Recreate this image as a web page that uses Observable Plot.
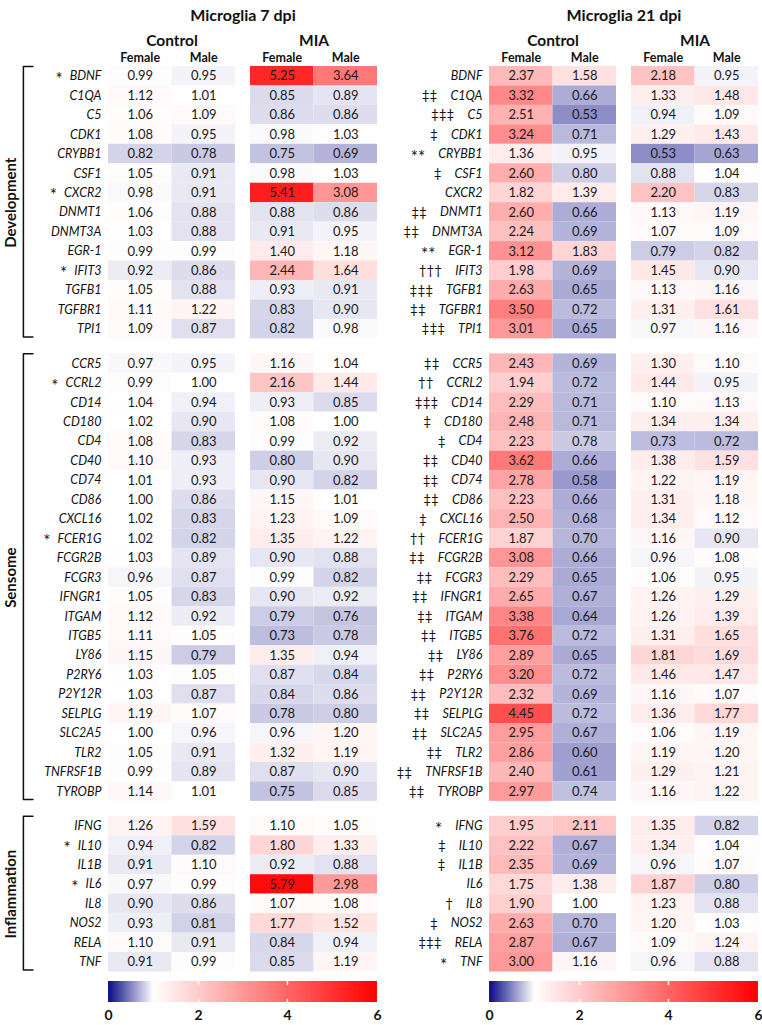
<!DOCTYPE html>
<html>
<head>
<meta charset="utf-8">
<script src="https://cdn.jsdelivr.net/npm/d3@7"></script>
<script src="https://cdn.jsdelivr.net/npm/@observablehq/plot@0.6"></script>
<style>
html, body { margin: 0; padding: 0; overflow: hidden; background: #fff; }
#wrap { position: relative; width: 762px; height: 1025px; }
#wrap > svg { position: absolute; }
.cb-ramp .tick line { stroke: #fff; stroke-width: 1.5; stroke-dasharray: 4 14 4 40; }
.cb-ramp .tick:first-of-type line, .cb-ramp .tick:last-of-type line { display: none; }
</style>
</head>
<body>
<div id="wrap"></div>
<script>
// ---------------- data ----------------
const panels = ["Microglia 7 dpi", "Microglia 21 dpi"];
const conditions = ["Control", "MIA"];
const sexes = ["Female", "Male"];
const groups = ["Development", "Sensome", "Inflammation"];

const developmentGenes = ["BDNF","C1QA","C5","CDK1","CRYBB1","CSF1","CXCR2","DNMT1","DNMT3A","EGR-1","IFIT3","TGFB1","TGFBR1","TPI1"];
const sensomeGenes = ["CCR5","CCRL2","CD14","CD180","CD4","CD40","CD74","CD86","CXCL16","FCER1G","FCGR2B","FCGR3","IFNGR1","ITGAM","ITGB5","LY86","P2RY6","P2Y12R","SELPLG","SLC2A5","TLR2","TNFRSF1B","TYROBP"];
const inflammationGenes = ["IFNG","IL10","IL1B","IL6","IL8","NOS2","RELA","TNF"];

// rows: [Control Female, Control Male, MIA Female, MIA Male]
const dpi7Development = [
  [0.99,0.95,5.25,3.64],[1.12,1.01,0.85,0.89],[1.06,1.09,0.86,0.86],[1.08,0.95,0.98,1.03],
  [0.82,0.78,0.75,0.69],[1.05,0.91,0.98,1.03],[0.98,0.91,5.41,3.08],[1.06,0.88,0.88,0.86],
  [1.03,0.88,0.91,0.95],[0.99,0.99,1.40,1.18],[0.92,0.86,2.44,1.64],[1.05,0.88,0.93,0.91],
  [1.11,1.22,0.83,0.90],[1.09,0.87,0.82,0.98]
];
const dpi7Sensome = [
  [0.97,0.95,1.16,1.04],[0.99,1.00,2.16,1.44],[1.04,0.94,0.93,0.85],[1.02,0.90,1.08,1.00],
  [1.08,0.83,0.99,0.92],[1.10,0.93,0.80,0.90],[1.01,0.93,0.90,0.82],[1.00,0.86,1.15,1.01],
  [1.02,0.83,1.23,1.09],[1.02,0.82,1.35,1.22],[1.03,0.89,0.90,0.88],[0.96,0.87,0.99,0.82],
  [1.05,0.83,0.90,0.92],[1.12,0.92,0.79,0.76],[1.11,1.05,0.73,0.78],[1.15,0.79,1.35,0.94],
  [1.03,1.05,0.87,0.84],[1.03,0.87,0.84,0.86],[1.19,1.07,0.78,0.80],[1.00,0.96,0.96,1.20],
  [1.05,0.91,1.32,1.19],[0.99,0.89,0.87,0.90],[1.14,1.01,0.75,0.85]
];
const dpi7Inflammation = [
  [1.26,1.59,1.10,1.05],[0.94,0.82,1.80,1.33],[0.91,1.10,0.92,0.88],[0.97,0.99,5.79,2.98],
  [0.90,0.86,1.07,1.08],[0.93,0.81,1.77,1.52],[1.10,0.91,0.84,0.94],[0.91,0.99,0.85,1.19]
];
const dpi21Development = [
  [2.37,1.58,2.18,0.95],[3.32,0.66,1.33,1.48],[2.51,0.53,0.94,1.09],[3.24,0.71,1.29,1.43],
  [1.36,0.95,0.53,0.63],[2.60,0.80,0.88,1.04],[1.82,1.39,2.20,0.83],[2.60,0.66,1.13,1.19],
  [2.24,0.69,1.07,1.09],[3.12,1.83,0.79,0.82],[1.98,0.69,1.45,0.90],[2.63,0.65,1.13,1.16],
  [3.50,0.72,1.31,1.61],[3.01,0.65,0.97,1.16]
];
const dpi21Sensome = [
  [2.43,0.69,1.30,1.10],[1.94,0.72,1.44,0.95],[2.29,0.71,1.10,1.13],[2.48,0.71,1.34,1.34],
  [2.23,0.78,0.73,0.72],[3.62,0.66,1.38,1.59],[2.78,0.58,1.22,1.19],[2.23,0.66,1.31,1.18],
  [2.50,0.68,1.34,1.12],[1.87,0.70,1.16,0.90],[3.08,0.66,0.96,1.08],[2.29,0.65,1.06,0.95],
  [2.65,0.67,1.26,1.29],[3.38,0.64,1.26,1.39],[3.76,0.72,1.31,1.65],[2.89,0.65,1.81,1.69],
  [3.20,0.72,1.46,1.47],[2.32,0.69,1.16,1.07],[4.45,0.72,1.36,1.77],[2.95,0.67,1.06,1.19],
  [2.86,0.60,1.19,1.20],[2.40,0.61,1.29,1.21],[2.97,0.74,1.16,1.22]
];
const dpi21Inflammation = [
  [1.95,2.11,1.35,0.82],[2.22,0.67,1.34,1.04],[2.35,0.69,0.96,1.07],[1.75,1.38,1.87,0.80],
  [1.90,1.00,1.23,0.88],[2.63,0.70,1.20,1.03],[2.87,0.67,1.09,1.24],[3.00,1.16,0.96,0.88]
];

// significance markers
const sig7Development = ["*","","","","","","*","","","","*","","",""];
const sig7Sensome = ["","*","","","","","","","","*","","","","","","","","","","","","",""];
const sig7Inflammation = ["","*","","*","","","",""];
const sig21Development = ["","‡‡","‡‡‡","‡","**","‡","","‡‡","‡‡","**","†††","‡‡‡","‡‡","‡‡‡"];
const sig21Sensome = ["‡‡","††","‡‡‡","‡","‡","‡‡","‡‡","‡‡","‡","††","‡‡","‡‡","‡‡","‡‡","‡‡","‡‡","‡‡","‡‡","‡‡","‡‡","‡‡","‡‡","‡‡"];
const sig21Inflammation = ["*","‡","‡","","†","‡","‡‡‡","*"];

const colorTicks = [0, 2, 4, 6];

// ---------------- layout / styling ----------------
const FONT = "Lato, 'Open Sans', sans-serif";
const W = 762, H = 980;
const M = {left: 108, right: 4, top: 66, bottom: 8.5};
const PANEL_STEP = 6.0;   // panel offset, in cell widths
const COND_GAP = 0.236;   // gap between Control and MIA blocks, in cell widths
const GROUP_GAP = 0.77;   // gap between gene groups, in row heights
const X_PANEL = 4 + COND_GAP;
const X_MAX = PANEL_STEP + X_PANEL;
const unitX = (W - M.left - M.right) / X_MAX;

const NAVY = "#0c0c88";
const ramp = d3.scaleLinear().domain([0, 1/6, 1]).range([NAVY, "#ffffff", "#ff0000"]).interpolate(d3.interpolateRgb).clamp(true);
const colorInterp = t => ramp(t);

const geneLists = [developmentGenes, sensomeGenes, inflammationGenes];
const valueTables = [[dpi7Development, dpi7Sensome, dpi7Inflammation], [dpi21Development, dpi21Sensome, dpi21Inflammation]];
const sigTables = [[sig7Development, sig7Sensome, sig7Inflammation], [sig21Development, sig21Sensome, sig21Inflammation]];

// rows with vertical position (row units)
const rows = [];
const groupSpans = [];
let pos = 0;
geneLists.forEach((genes, g) => {
  const start = pos;
  genes.forEach((gene, i) => { rows.push({g, i, gene, y: pos + 0.5}); pos += 1; });
  groupSpans.push({group: groups[g], y1: start, y2: pos});
  if (g < geneLists.length - 1) pos += GROUP_GAP;
});
const totalY = pos;

const colX = (p, j) => p * PANEL_STEP + Math.floor(j / 2) * (2 + COND_GAP) + (j % 2);

const cells = [];
panels.forEach((panel, p) => rows.forEach(r => {
  valueTables[p][r.g][r.i].forEach((v, j) => {
    cells.push({p, gene: r.gene, v, x1: colX(p, j), x2: colX(p, j) + 1, y1: r.y - 0.5, y2: r.y + 0.5});
  });
}));

// measure gene label widths to place markers before them
const ctx = document.createElement("canvas").getContext("2d");
ctx.font = `italic 12.5px ${FONT}`;
const labelDx = -7;
const markerGap = [7, 13];
const labels = [];
const markers = [];
panels.forEach((panel, p) => rows.forEach(r => {
  labels.push({x: p * PANEL_STEP, y: r.y, gene: r.gene});
  const s = sigTables[p][r.g][r.i];
  if (s) {
    const w = ctx.measureText(r.gene).width;
    markers.push({x: p * PANEL_STEP - (-labelDx + w + markerGap[p]) / unitX, y: r.y, s, star: s.includes("*")});
  }
}));
const starMarkers = markers.filter(d => d.star);
const daggerMarkers = markers.filter(d => !d.star);

const titles = panels.map((t, p) => ({t, x: p * PANEL_STEP + X_PANEL / 2}));
const condHeads = [];
const sexHeads = [];
panels.forEach((panel, p) => conditions.forEach((c, ci) => {
  condHeads.push({t: c, x: colX(p, ci * 2) + 1});
  sexes.forEach((s, si) => sexHeads.push({t: s, x: colX(p, ci * 2 + si) + 0.5}));
}));

const LABEL_X = -1.54, BR_X = -1.34, BR_TICK = -1.19;
const brackets = [];
groupSpans.forEach(s => {
  const top = s.y1, bot = s.y2 - 0.1;
  brackets.push({group: s.group, x: BR_TICK, y: top}, {group: s.group, x: BR_X, y: top},
                {group: s.group, x: BR_X, y: bot}, {group: s.group, x: BR_TICK, y: bot});
});
const groupLabels = groupSpans.map(s => ({t: s.group, x: LABEL_X, y: (s.y1 + s.y2) / 2}));

const plot = Plot.plot({
  width: W, height: H,
  marginLeft: M.left, marginRight: M.right, marginTop: M.top, marginBottom: M.bottom,
  x: {domain: [0, X_MAX], axis: null},
  y: {domain: [0, totalY], reverse: true, axis: null},
  color: {type: "linear", domain: [0, 6], interpolate: colorInterp},
  style: {fontFamily: FONT, fontSize: "13px", color: "#111", background: "white", overflow: "visible"},
  marks: [
    Plot.rect(cells, {x1: "x1", x2: "x2", y1: "y1", y2: "y2", fill: "v"}),
    Plot.text(cells, {x: d => (d.x1 + d.x2) / 2, y: d => (d.y1 + d.y2) / 2, text: d => d.v.toFixed(2), fontSize: 13, fill: "#1a1a1a"}),
    Plot.text(labels, {x: "x", y: "y", text: "gene", textAnchor: "end", dx: labelDx, fontStyle: "italic", fontSize: 12.5, fill: "#111"}),
    Plot.text(starMarkers, {x: "x", y: "y", text: "s", textAnchor: "end", fontSize: 17, dy: 3, fill: "#111"}),
    Plot.text(daggerMarkers, {x: "x", y: "y", text: "s", textAnchor: "end", fontSize: 13.5, fill: "#111"}),
    Plot.text(titles, {x: "x", text: "t", frameAnchor: "top", dy: -57, fontSize: 16, fontWeight: "bold", fill: "#111"}),
    Plot.text(condHeads, {x: "x", text: "t", frameAnchor: "top", dy: -32, fontSize: 15.5, fontWeight: "bold", fill: "#111"}),
    Plot.text(sexHeads, {x: "x", text: "t", frameAnchor: "top", dy: -13, fontSize: 12.5, fontWeight: "bold", fill: "#111"}),
    Plot.line(brackets, {x: "x", y: "y", z: "group", stroke: "#111", strokeWidth: 1.5}),
    Plot.text(groupLabels, {x: "x", y: "y", text: "t", rotate: -90, fontSize: 15, fontWeight: "bold", fill: "#111"})
  ]
});
plot.style.left = "0px";
plot.style.top = "0px";
const wrap = document.getElementById("wrap");
wrap.appendChild(plot);

// colour bars below each panel
panels.forEach((panel, p) => {
  const mL = 10, mR = 10;
  const barW = X_PANEL * unitX;
  const lg = Plot.legend({
    legend: "ramp",
    className: "cb",
    color: {type: "linear", domain: [0, 6], interpolate: colorInterp},
    width: barW + mL + mR, height: 43,
    marginLeft: mL, marginRight: mR, marginTop: 0, marginBottom: 22,
    ticks: colorTicks, tickSize: 5, tickFormat: d => String(d), label: null,
    style: {fontFamily: FONT, fontSize: "14px", fontWeight: "bold", color: "#111", background: "transparent", overflow: "visible"}
  });
  lg.style.position = "absolute";
  lg.style.left = (M.left + p * PANEL_STEP * unitX - mL) + "px";
  lg.style.top = "981px";
  wrap.appendChild(lg);
});
</script>
</body>
</html>
